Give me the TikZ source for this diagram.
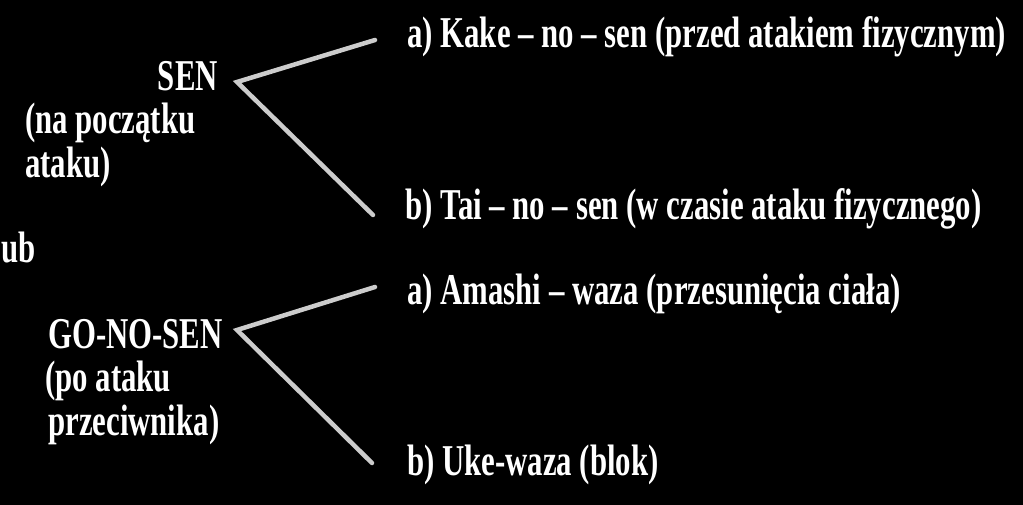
\documentclass[tikz,border=0pt]{standalone}
\usepackage{fontspec}
\setmainfont{Liberation Serif}[FakeStretch=0.7]

\begin{document}
\begin{tikzpicture}[x=1pt,y=-1pt,
  label text/.style={text=white,inner sep=0pt,
    font=\fontsize{44}{50}\selectfont\bfseries},
  branch line/.style={draw=white!80!black,line width=4.5pt,
    line cap=round,line join=miter}]

  % Black page
  \fill [black] (0,0) rectangle (1023,505);
  \useasboundingbox (0,0) rectangle (1023,505);

  % Upper group: SEN and its two kinds

  \node [label text, anchor=base east] (sen) at (218,91) {SEN};
  \node [label text, anchor=base west] (senwhen) at (25,134) {(na początku};
  \node [label text, anchor=base west] (senwhen2) at (25,178) {ataku)};

  \node [label text, anchor=base west] (kake) at (407,48)
    {a) Kake -- no -- sen (przed atakiem fizycznym)};
  \node [label text, anchor=base west] (tai) at (405,220)
    {b) Tai -- no -- sen (w czasie ataku fizycznego)};

  % Left edge word between the groups
  \node [label text, anchor=base west] (lub) at (1,262) {ub};

  % Lower group: GO-NO-SEN and its two kinds

  \node [label text, anchor=base west] (gonosen) at (48,348) {GO-NO-SEN};
  \node [label text, anchor=base west] (gowhen) at (45,391) {(po ataku};
  \node [label text, anchor=base west] (gowhen2) at (48,435) {przeciwnika)};

  \node [label text, anchor=base west] (amashi) at (407,305)
    {a) Amashi -- waza (przesunięcia ciała)};
  \node [label text, anchor=base west] (uke) at (407,475)
    {b) Uke-waza (blok)};

  % Forks
  \coordinate (senfork) at (237,82);
  \coordinate (senup) at (375,40);
  \coordinate (sendown) at (373,215);
  \coordinate (gofork) at (237,330);
  \coordinate (goup) at (375,287);
  \coordinate (godown) at (372,463);

  \draw [branch line] (senup) -- (senfork) -- (sendown);
  \draw [branch line] (goup) -- (gofork) -- (godown);
\end{tikzpicture}
\end{document}
